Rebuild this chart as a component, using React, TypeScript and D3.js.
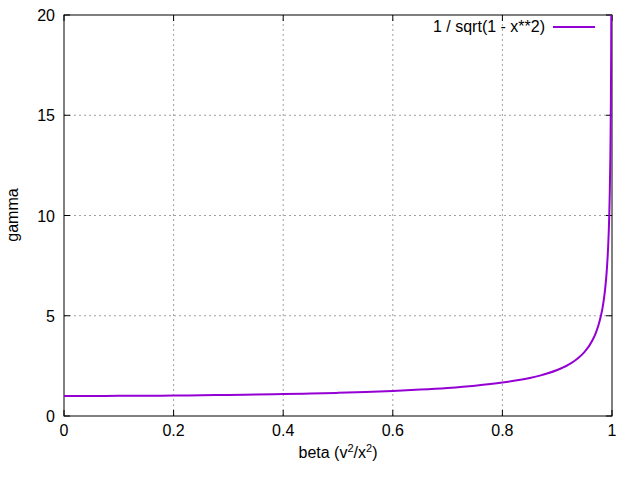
import React from "react";
import * as d3 from "d3";

const betaValues = [0, 0.05, 0.1, 0.15, 0.2, 0.25, 0.3, 0.35, 0.4, 0.45, 0.5, 0.55, 0.6, 0.65, 0.7, 0.75, 0.8, 0.83, 0.85, 0.87, 0.88, 0.9, 0.91, 0.92, 0.93, 0.94, 0.95, 0.955, 0.96, 0.965, 0.97, 0.975, 0.98, 0.9825, 0.985, 0.9875, 0.99, 0.9915, 0.993, 0.994, 0.995, 0.996, 0.997, 0.9975, 0.998, 0.9985, 0.99875, 0.999];
const gammaValues = [1.0, 1.0013, 1.005, 1.0114, 1.0206, 1.0328, 1.0483, 1.0675, 1.0911, 1.1198, 1.1547, 1.1974, 1.25, 1.3159, 1.4003, 1.5119, 1.6667, 1.7934, 1.8983, 2.0276, 2.1053, 2.2942, 2.4119, 2.5516, 2.7206, 2.9310, 3.2026, 3.3706, 3.5714, 3.8161, 4.1134, 4.5004, 5.0252, 5.3564, 5.7952, 6.3390, 7.0888, 7.6903, 8.4660, 9.1424, 10.0125, 11.1915, 12.9196, 14.1510, 15.8193, 18.2659, 20.0078, 22.3663];
const xTicks = [0, 0.2, 0.4, 0.6, 0.8, 1];
const xTickLabels = ["0", "0.2", "0.4", "0.6", "0.8", "1"];
const yTicks = [0, 5, 10, 15, 20];
const yTickLabels = ["0", "5", "10", "15", "20"];
const legendLabel = "1 / sqrt(1 - x**2)";

export default function App() {
  const W = 640, H = 480;
  const left = 64, right = 612, top = 15, bottom = 416;
  const x = d3.scaleLinear().domain([0, 1]).range([left, right]);
  const y = d3.scaleLinear().domain([0, 20]).range([bottom, top]);
  const pts = betaValues.map((b, i) => [b, gammaValues[i]] as [number, number]);
  const line = d3.line<[number, number]>().x(d => x(d[0])).y(d => y(d[1])).curve(d3.curveMonotoneX);
  const font = "'Liberation Sans', Arial, sans-serif";
  const color = "#9400d3";
  const tl = 6;
  const fs = 16;
  return (
    <svg width={W} height={H} style={{ position: "absolute", left: 0, top: 0, background: "#fff" }} fontFamily={font}>
      <rect width={W} height={H} fill="#fff" />
      <defs>
        <clipPath id="plot">
          <rect x={left} y={top} width={right - left} height={bottom - top} />
        </clipPath>
      </defs>
      {xTicks.slice(1, -1).map((t, i) => (
        <line key={"gx" + i} x1={x(t)} x2={x(t)} y1={bottom} y2={top} stroke="#a0a0a0" strokeWidth={1} strokeDasharray="2,3" />
      ))}
      {yTicks.slice(1, -1).map((t, i) => (
        <line key={"gy" + i} x1={left} x2={right} y1={y(t)} y2={y(t)} stroke="#a0a0a0" strokeWidth={1} strokeDasharray="2,3" />
      ))}
      {xTicks.map((t, i) => (
        <g key={"tx" + i}>
          <line x1={x(t)} x2={x(t)} y1={bottom} y2={bottom - tl} stroke="#000" />
          <line x1={x(t)} x2={x(t)} y1={top} y2={top + tl} stroke="#000" />
          <text x={x(t)} y={436} textAnchor="middle" fontSize={fs}>{xTickLabels[i]}</text>
        </g>
      ))}
      {yTicks.map((t, i) => (
        <g key={"ty" + i}>
          <line x1={left} x2={left + tl} y1={y(t)} y2={y(t)} stroke="#000" />
          <line x1={right} x2={right - tl} y1={y(t)} y2={y(t)} stroke="#000" />
          <text x={55} y={y(t) + 6} textAnchor="end" fontSize={fs}>{yTickLabels[i]}</text>
        </g>
      ))}
      <rect x={left} y={top} width={right - left} height={bottom - top} fill="none" stroke="#000" strokeWidth={1} />
      <path d={line(pts) || ""} fill="none" stroke={color} strokeWidth={2} clipPath="url(#plot)" />
      <text x={545} y={32} textAnchor="end" fontSize={fs}>{legendLabel}</text>
      <line x1={553} x2={595} y1={27} y2={27} stroke={color} strokeWidth={2} />
      <text transform={`translate(18,215) rotate(-90)`} textAnchor="middle" fontSize={fs}>gamma</text>
      <text x={338} y={458} textAnchor="middle" fontSize={fs}>
        beta (v<tspan dy={-6} fontSize={11}>2</tspan><tspan dy={6}>/x</tspan><tspan dy={-6} fontSize={11}>2</tspan><tspan dy={6}>)</tspan>
      </text>
    </svg>
  );
}
